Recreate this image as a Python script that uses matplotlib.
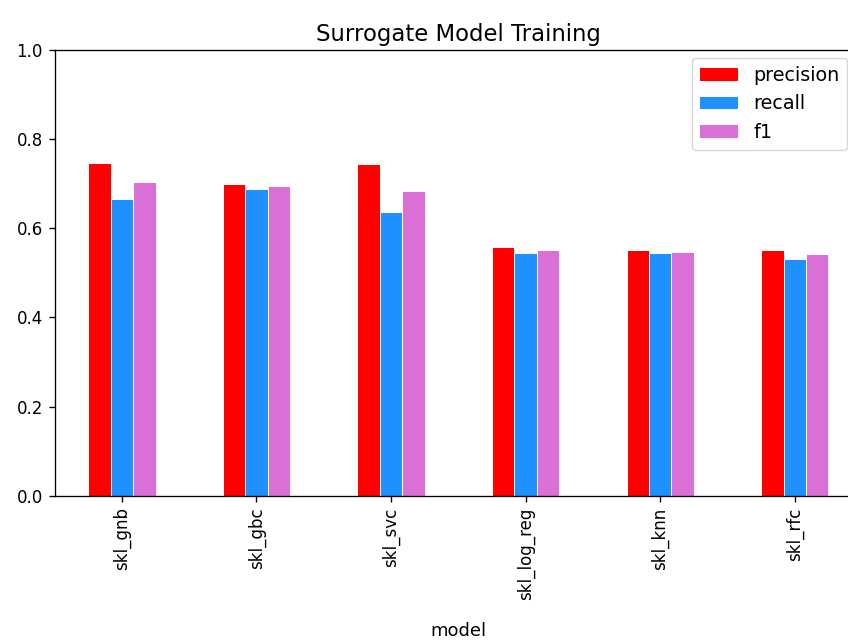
import matplotlib
matplotlib.use("Agg")
import matplotlib.pyplot as plt
import numpy as np

models = ["skl_gnb", "skl_gbc", "skl_svc", "skl_log_reg", "skl_knn", "skl_rfc"]
precision = [0.747, 0.700, 0.744, 0.557, 0.550, 0.550]
recall = [0.666, 0.688, 0.635, 0.544, 0.544, 0.531]
f1 = [0.703, 0.694, 0.684, 0.550, 0.547, 0.541]

series = [("precision", precision, "red"),
          ("recall", recall, "dodgerblue"),
          ("f1", f1, "orchid")]

s = 1.2
plt.rcParams.update({
    "font.size": 12,
    "axes.linewidth": 0.8 * s,
    "xtick.major.width": 0.8 * s,
    "ytick.major.width": 0.8 * s,
    "xtick.major.size": 3.5 * s,
    "ytick.major.size": 3.5 * s,
    "xtick.major.pad": 3.5 * s,
    "ytick.major.pad": 3.5 * s,
})

W, H = 848, 640
fig = plt.figure(figsize=(W / 100, H / 100), dpi=100)
left, right, top, bottom = 54.6, 862.0, 49.7, 495.7
ax = fig.add_axes([left / W, 1 - bottom / H, (right - left) / W, (bottom - top) / H])

x = np.arange(len(models))
bw = 0.5 / len(series)
for i, (name, vals, color) in enumerate(series):
    ax.bar(x + (i - 1) * bw, vals, width=bw, color=color, edgecolor="white",
           linewidth=0.7, label=name)

ax.set_xlim(-0.5, len(models) - 0.5)
ax.set_ylim(0, 1.0)
ax.set_xticks(x)
ax.set_xticklabels(models, rotation=90)
ax.set_xlabel("model", fontsize=13, labelpad=16)
ax.set_title("Surrogate Model Training", fontsize=16.4, pad=6.5)
ax.legend(loc="upper right", bbox_to_anchor=(847 / W, 1 - 58 / H),
          bbox_transform=fig.transFigure, borderaxespad=0, fontsize=13.8)

fig.savefig("out.png", dpi=100)
